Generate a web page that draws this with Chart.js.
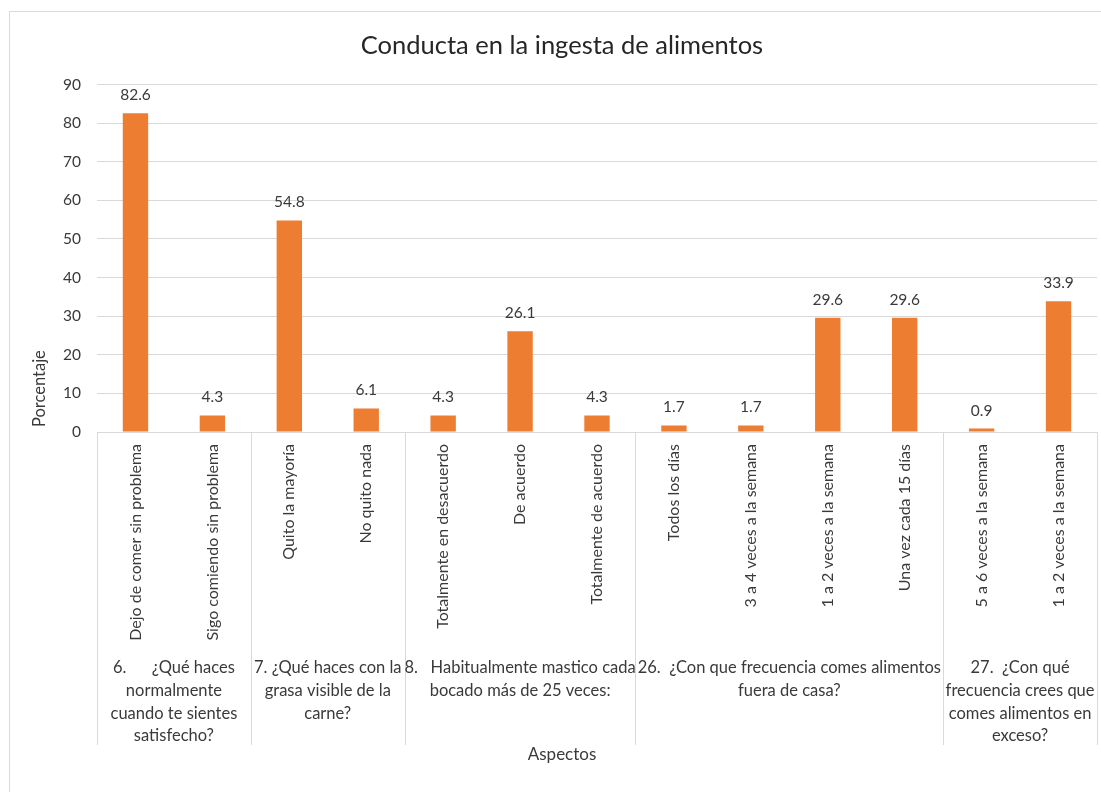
<!DOCTYPE html>
<html>
<head>
<meta charset="utf-8">
<script src="https://cdn.jsdelivr.net/npm/chart.js@4.4.1/dist/chart.umd.min.js"></script>
<style>
  body { margin: 0; background: #fff; }
  #wrap { width: 1101px; height: 792px; position: relative; }
</style>
</head>
<body>
<div id="wrap"><canvas id="grafico"></canvas></div>
<script>
// Datos
const categorias = [
    'Dejo de comer sin problema', 'Sigo comiendo sin problema',
    'Quito la mayoría', 'No quito nada',
    'Totalmente en desacuerdo', 'De acuerdo', 'Totalmente de acuerdo',
    'Todos los días', '3 a 4 veces a la semana', '1 a 2 veces a la semana', 'Una vez cada 15 días',
    '5 a 6 veces a la semana', '1 a 2 veces a la semana'
];
const porcentajes = [82.6, 4.3, 54.8, 6.1, 4.3, 26.1, 4.3, 1.7, 1.7, 29.6, 29.6, 0.9, 33.9];

const gruposTamano = [2, 2, 3, 4, 2];
const gruposTexto = [
    ['6.      ¿Qué haces', 'normalmente', 'cuando te sientes', 'satisfecho?'],
    ['7. ¿Qué haces con la', 'grasa visible de la', 'carne?'],
    ['8.   Habitualmente mastico cada', 'bocado más de 25 veces:'],
    ['26.  ¿Con que frecuencia comes alimentos', 'fuera de casa?'],
    ['27.  ¿Con qué', 'frecuencia crees que', 'comes alimentos en', 'exceso?']
];

const tituloY = 'Porcentaje';
const tituloX = 'Aspectos';
const yMin = 0, yMax = 90, yPaso = 10;

const FUENTE = 'Lato, "Open Sans", sans-serif';
const GRIS = '#d9d9d9';
const TEXTO = '#3a3a3a';

// Plugin: marco, etiquetas de valor, títulos de ejes y categorías agrupadas
const extras = {
    id: 'extras',
    beforeDraw(chart) {
        const ctx = chart.ctx;
        ctx.save();
        ctx.strokeStyle = GRIS;
        ctx.lineWidth = 1;
        ctx.strokeRect(9.5, 11.5, 1200, 1000);
        ctx.restore();
    },
    afterDraw(chart) {
        const ctx = chart.ctx;
        const x = chart.scales.x;
        const area = chart.chartArea;
        const meta = chart.getDatasetMeta(0);

        ctx.save();
        // valores encima de las barras
        ctx.fillStyle = TEXTO;
        ctx.font = '15.5px ' + FUENTE;
        ctx.textAlign = 'center';
        ctx.textBaseline = 'middle';
        meta.data.forEach((bar, i) => {
            ctx.fillText(porcentajes[i].toFixed(1), bar.x, bar.y - 18);
        });

        // líneas y textos de los grupos
        const medio = (x.getPixelForValue(1) - x.getPixelForValue(0)) / 2;
        ctx.strokeStyle = GRIS;
        ctx.lineWidth = 1;
        let inicio = 0;
        const bordes = [];
        gruposTamano.forEach(n => {
            bordes.push(x.getPixelForValue(inicio) - medio);
            inicio += n;
        });
        bordes.push(x.getPixelForValue(inicio - 1) + medio);
        bordes.forEach(b => {
            const px = Math.round(b) + 0.5;
            ctx.beginPath();
            ctx.moveTo(px, area.bottom);
            ctx.lineTo(px, 745);
            ctx.stroke();
        });

        ctx.font = '16.5px ' + FUENTE;
        ctx.fillStyle = TEXTO;
        gruposTexto.forEach((lineas, g) => {
            const cx = (bordes[g] + bordes[g + 1]) / 2;
            lineas.forEach((t, k) => {
                ctx.fillText(t, cx, 668 + k * 22.6);
            });
        });

        // título del eje X
        ctx.font = '17px ' + FUENTE;
        ctx.fillText(tituloX, 562, 755);

        // título del eje Y
        ctx.translate(40, 427);
        ctx.rotate(-Math.PI / 2);
        ctx.textAlign = 'left';
        ctx.font = '16.5px ' + FUENTE;
        ctx.fillText(tituloY, 0, 0);
        ctx.restore();
    }
};

new Chart(document.getElementById('grafico'), {
    type: 'bar',
    data: {
        labels: categorias,
        datasets: [{
            data: porcentajes,
            backgroundColor: '#ED7D31',
            borderWidth: 0,
            barPercentage: 0.33,
            categoryPercentage: 1
        }]
    },
    options: {
        responsive: true,
        maintainAspectRatio: false,
        animation: false,
        layout: { padding: { left: 27, right: 4, top: 0, bottom: 24 } },
        plugins: {
            legend: { display: false },
            tooltip: { enabled: false },
            title: {
                display: true,
                text: 'Conducta en la ingesta de alimentos',
                color: '#262626',
                font: { family: FUENTE, size: 25.5, weight: 'normal' },
                padding: { top: 30, bottom: 24 }
            }
        },
        scales: {
            x: {
                grid: { display: false, drawTicks: false },
                border: { display: false },
                ticks: {
                    color: TEXTO,
                    font: { family: FUENTE, size: 16 },
                    minRotation: 90,
                    maxRotation: 90,
                    autoSkip: false,
                    padding: 12
                },
                afterFit(scale) { scale.height = 336; }
            },
            y: {
                min: yMin,
                max: yMax,
                grid: { color: GRIS, drawTicks: false },
                border: { display: false },
                ticks: {
                    stepSize: yPaso,
                    color: TEXTO,
                    font: { family: FUENTE, size: 15.5 },
                    padding: 16
                },
                afterFit(scale) { scale.width = 70; }
            }
        }
    },
    plugins: [extras]
});
</script>
</body>
</html>
